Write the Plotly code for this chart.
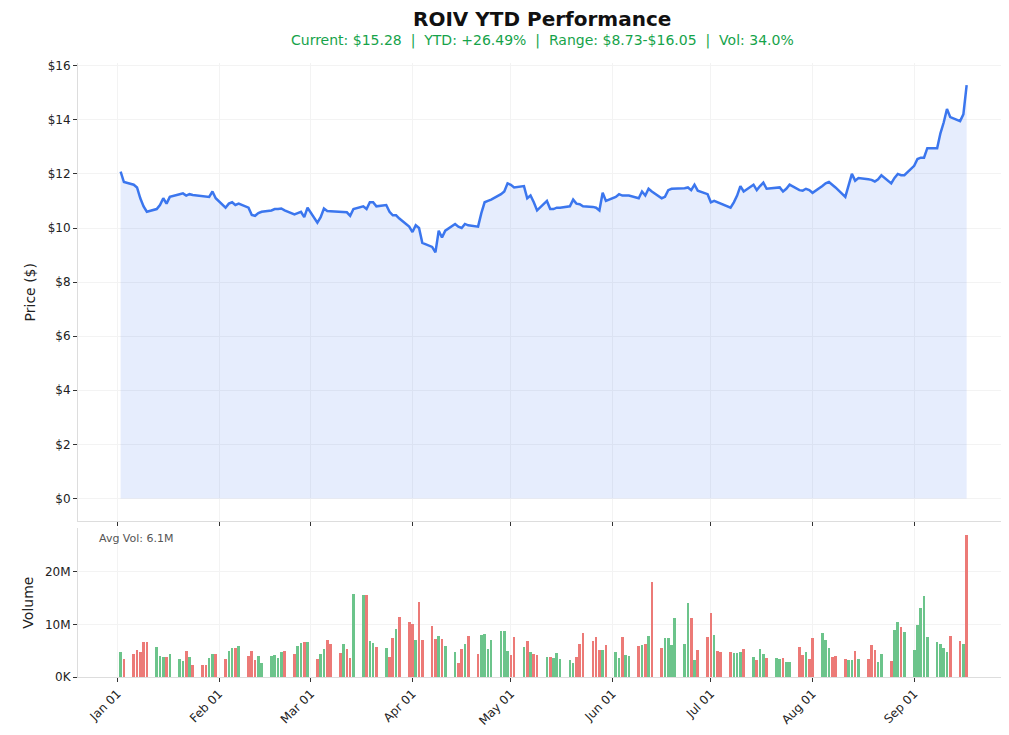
import pandas as pd
import plotly.graph_objects as go
from plotly.subplots import make_subplots

dates = pd.bdate_range("2025-01-02", "2025-09-17")

prices = [
    12.08, 11.7,
    11.6, 11.5, 11.1, 10.8, 10.6,
    10.7, 10.85, 11.1, 10.9, 11.15,
    11.25, 11.28, 11.2, 11.25, 11.22,
    11.18, 11.15, 11.15, 11.35, 11.1,
    10.75, 10.9, 10.95, 10.85, 10.9,
    10.75, 10.48, 10.45, 10.55, 10.6,
    10.65, 10.7, 10.7, 10.72, 10.65,
    10.5, 10.55, 10.6, 10.4, 10.75,
    10.2, 10.4, 10.72, 10.63, 10.62,
    10.6, 10.6, 10.58, 10.45, 10.7,
    10.8, 10.7, 10.95, 10.95, 10.8,
    10.85, 10.6, 10.47, 10.47, 10.35,
    10.05, 9.85, 10.1, 10.0, 9.45,
    9.3, 9.1, 9.9, 9.65, 9.9,
    10.15, 10.05, 10.0, 10.15, 10.1,
    10.05, 10.55, 10.95, 11.0, 11.05,
    11.25, 11.35, 11.65, 11.6, 11.5,
    11.55, 11.1, 11.2, 10.95, 10.65,
    11.0, 10.7, 10.7, 10.75, 10.75,
    10.8, 11.05, 10.9, 10.88, 10.8,
    10.78, 10.75, 10.65, 11.3, 11.0,
    11.15, 11.25, 11.2, 11.2, 11.2,
    11.1, 11.35, 11.2, 11.45, 11.35,
    11.1, 11.15, 11.4, 11.45, 11.45,
    11.47, 11.5, 11.4, 11.6, 11.38,
    11.25, 10.95, 11.0, 10.95, 10.9,
    10.75, 10.95, 11.2, 11.55, 11.35,
    11.6, 11.4, 11.55, 11.68, 11.45,
    11.47, 11.5, 11.35, 11.45, 11.6,
    11.4, 11.38, 11.45, 11.4, 11.3,
    11.55, 11.65, 11.7, 11.6, 11.5,
    11.15, 11.6, 12.0, 11.75, 11.85,
    11.8, 11.78, 11.72, 11.8, 11.95,
    11.65, 11.85, 12.0, 11.95, 11.95,
    12.3, 12.55, 12.6, 12.6, 12.95,
    12.95, 13.5, 13.9, 14.4, 14.1,
    13.95, 14.2, 15.28,
]

volumes = [
    4.7, 3.3,
    4.4, 5.0, 4.7, 6.7, 6.6,
    5.6, 3.9, 3.7, 3.8, 4.4,
    3.4, 3.0, 4.9, 3.7, 2.3,
    2.3, 2.3, 3.5, 4.3, 4.3,
    3.3, 4.9, 5.5, 5.5, 5.8,
    4.0, 4.9, 3.2, 3.9, 2.7,
    4.0, 4.1, 3.5, 4.8, 4.9,
    4.3, 5.9, 6.4, 6.6, 6.7,
    3.3, 4.3, 5.2, 7.0, 6.3,
    4.6, 6.2, 5.2, 3.5, 15.8,
    15.6, 15.6, 6.8, 6.5, 5.6,
    5.5, 3.8, 7.4, 9.0, 11.3,
    10.5, 10.0, 7.0, 14.2, 7.0,
    9.6, 7.2, 7.8, 7.2, 5.8,
    4.7, 2.6, 5.2, 6.3, 7.8,
    4.4, 8.0, 8.2, 5.2, 7.0,
    8.8, 8.8, 4.9, 4.1, 7.6,
    5.7, 6.8, 4.8, 4.3, 4.2,
    3.8, 3.7, 3.6, 4.6, 3.3,
    3.1, 2.6, 3.8, 6.3, 8.3,
    6.8, 7.5, 5.1, 5.1, 6.0,
    4.8, 3.6, 7.5, 4.2, 4.0,
    5.9, 6.0, 6.2, 7.8, 18.0,
    5.4, 7.3, 7.3, 6.1, 11.1,
    6.3, 14.0, 11.1, 3.1, 5.1,
    7.6, 12.1, 8.0, 4.9, 4.7,
    4.7, 4.6, 4.5, 4.7, 5.2,
    3.7, 3.2, 5.2, 4.3, 3.5,
    3.6, 3.4, 3.5, 2.8, 2.8,
    5.6, 4.2, 4.8, 3.3, 7.3,
    8.3, 7.0, 5.5, 3.7, 4.0,
    3.4, 3.2, 3.1, 4.9, 3.3,
    3.3, 6.0, 5.0, 2.8, 4.3,
    3.0, 8.9, 10.4, 9.4, 8.6,
    5.0, 9.8, 13.0, 15.3, 7.6,
    6.7, 6.2, 5.5, 4.8, 7.7,
    6.8, 6.2, 27.0,
]

tick_dates = ["2025-01-01", "2025-02-01", "2025-03-01", "2025-04-01", "2025-05-01",
              "2025-06-01", "2025-07-01", "2025-08-01", "2025-09-01"]
tick_labels = ["Jan 01", "Feb 01", "Mar 01", "Apr 01", "May 01",
               "Jun 01", "Jul 01", "Aug 01", "Sep 01"]

vol_units = [v * 1e6 for v in volumes]
bar_colors = ["#6cc48b" if i == 0 or prices[i] >= prices[i - 1] else "#ec7a77"
              for i in range(len(prices))]
bar_colors[-1] = "#ec7a77"

fig = make_subplots(rows=2, cols=1, shared_xaxes=True, row_heights=[0.755, 0.245],
                    vertical_spacing=0.011)

fig.add_trace(go.Scatter(x=dates, y=prices, mode="lines",
                         line=dict(color="#3b76ee", width=2.5),
                         fill="tozeroy", fillcolor="rgba(59,118,238,0.13)",
                         showlegend=False), row=1, col=1)

fig.add_trace(go.Bar(x=dates, y=vol_units, marker_color=bar_colors,
                     marker_line_width=0, width=0.8 * 86400000,
                     showlegend=False), row=2, col=1)

xr = ["2024-12-20", "2025-09-29"]
axis_style = dict(showline=True, linecolor="#dddddd", gridcolor="#f3f3f3",
                  ticks="outside", tickcolor="#333", ticklen=4, zeroline=False,
                  automargin=False, tickfont=dict(size=12, color="#222"))
fig.update_xaxes(range=xr, tickvals=tick_dates, ticktext=tick_labels,
                 showgrid=True, **axis_style)
fig.update_xaxes(showticklabels=False, row=1, col=1)
fig.update_xaxes(tickangle=-45, row=2, col=1)
fig.update_yaxes(**axis_style)
fig.update_yaxes(range=[-0.85, 16.1], tickvals=list(range(0, 17, 2)),
                 ticktext=[f"${v}" for v in range(0, 17, 2)],
                 title=dict(text="Price ($)", font=dict(size=14), standoff=8), row=1, col=1)
fig.update_yaxes(range=[0, 28.3e6], tickvals=[0, 10e6, 20e6],
                 ticktext=["0K", "10M", "20M"],
                 title=dict(text="Volume", font=dict(size=14), standoff=8), row=2, col=1)

fig.add_annotation(text="Avg Vol: 6.1M", xref="paper", yref="paper", x=0.02, y=0.225,
                   showarrow=False, xanchor="left", yanchor="middle",
                   font=dict(size=11, color="#555"))
fig.add_annotation(text="<b>ROIV YTD Performance</b>", xref="paper", yref="paper",
                   x=0.5, y=1.072, showarrow=False, yanchor="middle",
                   font=dict(size=20, color="#111"))
fig.add_annotation(text="Current: $15.28  |  YTD: +26.49%  |  Range: $8.73-$16.05  |  Vol: 34.0%",
                   xref="paper", yref="paper", x=0.5, y=1.036, showarrow=False,
                   yanchor="middle", font=dict(size=14, color="#16a34a"))

fig.update_layout(
    width=1009, height=735, plot_bgcolor="white", paper_bgcolor="white",
    font=dict(family="DejaVu Sans", color="#222"),
    margin=dict(l=70, r=11, t=55, b=66), bargap=0,
)

fig.write_html("out.html")
